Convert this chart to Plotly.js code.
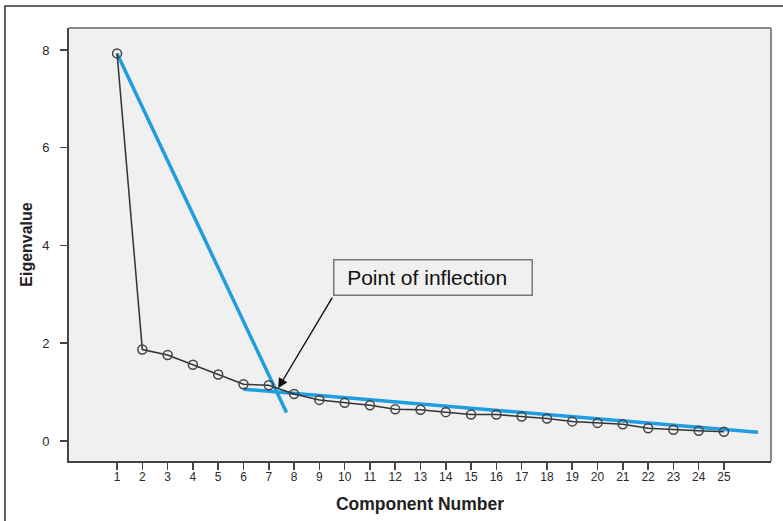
<!DOCTYPE html>
<html>
<head>
<meta charset="utf-8">
<script src="https://cdn.plot.ly/plotly-3.0.1.min.js"></script>
<style>html,body{margin:0;padding:0;background:#fff;}#chart{width:783px;height:521px;}</style>
</head>
<body>
<div id="chart"></div>
<script>
var components = [1,2,3,4,5,6,7,8,9,10,11,12,13,14,15,16,17,18,19,20,21,22,23,24,25];
var eigenvalues = [7.93,1.87,1.76,1.56,1.36,1.16,1.14,0.96,0.84,0.78,0.73,0.65,0.64,0.59,0.54,0.54,0.50,0.46,0.40,0.37,0.34,0.26,0.23,0.21,0.19];
var yTicks = [0, 2, 4, 6, 8];
var steepLineX = [1, 7.7];
var steepLineY = [7.93, 0.58];
var flatLineX = [6.0, 26.35];
var flatLineY = [1.06, 0.18];
var annotationText = "&nbsp;&nbsp;Point of inflection";
var inflectionX = 7.37;
var inflectionY = 1.08;

var FONT = 'Liberation Sans, Arial, Helvetica, sans-serif';

var traces = [
  {x: steepLineX, y: steepLineY, mode: 'lines', line: {color: '#1e9ee0', width: 3.5}, hoverinfo: 'skip'},
  {x: flatLineX, y: flatLineY, mode: 'lines', line: {color: '#1e9ee0', width: 3.5}, hoverinfo: 'skip'},
  {x: components, y: eigenvalues, mode: 'lines+markers',
   line: {color: '#333333', width: 1.5},
   marker: {symbol: 'circle-open', size: 9, color: '#444444', line: {width: 1.5, color: '#444444'}}}
];

var layout = {
  width: 783, height: 521,
  margin: {l: 69, r: 12, t: 28, b: 60},
  paper_bgcolor: '#ffffff',
  plot_bgcolor: '#f0f0f0',
  showlegend: false,
  font: {family: FONT, color: '#333333'},
  xaxis: {
    range: [-0.9, 26.86], tickmode: 'array', tickvals: components, ticktext: components.map(String),
    ticks: 'outside', ticklen: 7, tickwidth: 1.5, tickcolor: '#444', ticklabelstandoff: -3,
    showline: true, linecolor: '#444', linewidth: 2, showgrid: false, zeroline: false,
    tickfont: {size: 12, color: '#2a2a2a', family: FONT},
    title: {text: 'Component Number', font: {size: 17.5, color: '#222', weight: 'bold', family: FONT}, standoff: 14}
  },
  yaxis: {
    range: [-0.41, 8.45], tickmode: 'array', tickvals: yTicks, ticktext: yTicks.map(String),
    ticks: 'outside', ticklen: 7, tickwidth: 1.5, tickcolor: '#444', ticklabelstandoff: 8,
    showline: true, linecolor: '#444', linewidth: 2, showgrid: false, zeroline: false,
    tickfont: {size: 13, color: '#2a2a2a', family: FONT},
    title: {text: 'Eigenvalue', font: {size: 16, color: '#222', weight: 'bold', family: FONT}, standoff: 6}
  },
  shapes: [
    {type: 'line', xref: 'paper', yref: 'paper', x0: 0, x1: 1, y0: 1, y1: 1, line: {color: '#888', width: 2}},
    {type: 'line', xref: 'paper', yref: 'paper', x0: 1, x1: 1, y0: 0, y1: 1, line: {color: '#888', width: 2}},
    {type: 'rect', xref: 'paper', yref: 'paper', x0: -0.0912, x1: 1.2, y0: -0.4, y1: 1.0508, line: {color: '#333', width: 1.5}}
  ],
  annotations: [
    {x: 9.54, y: 3.72, xref: 'x', yref: 'y', xanchor: 'left', yanchor: 'top', showarrow: false,
     text: annotationText, align: 'left', width: 195, height: 32, borderpad: 1,
     bordercolor: '#777', borderwidth: 1.5, bgcolor: '#f0f0f0',
     font: {size: 21, color: '#111', family: FONT}},
    {x: inflectionX, y: inflectionY, xref: 'x', yref: 'y', text: '', showarrow: true,
     ax: 55, ay: -92, arrowhead: 2, arrowsize: 1.4, arrowwidth: 1.4, arrowcolor: '#111'}
  ]
};

Plotly.newPlot('chart', traces, layout, {displayModeBar: false, staticPlot: true});
</script>
</body>
</html>
